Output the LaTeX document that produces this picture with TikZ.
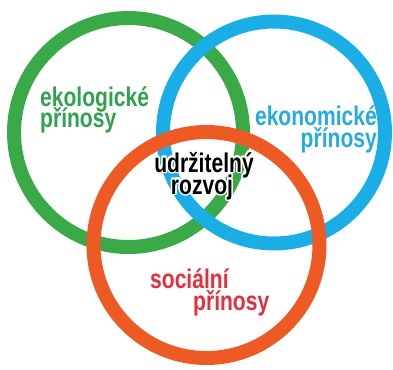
\documentclass[tikz,border=0pt]{standalone}
\usepackage{fontspec}
\usepackage{contour}
\newfontfamily\lblfont[FakeStretch=0.78]{Liberation Sans}
\contourlength{1.5pt}
\definecolor{ekogreen}{HTML}{3AAA48}
\definecolor{ekoblue}{HTML}{1BAEE6}
\definecolor{socorange}{HTML}{EE5A24}
\definecolor{socred}{HTML}{E42E3C}
\definecolor{txtgreen}{HTML}{2FA24E}
\definecolor{txtblue}{HTML}{27A9E1}
\tikzset{
	ring/.style={line width=14pt},
	lbl/.style={font=\lblfont\bfseries\fontsize{27}{22}\selectfont, inner sep=0pt}
}

\begin{document}
\begin{tikzpicture}[x=1pt, y=-1pt]
			%%%%% START %%%%%
			\useasboundingbox (0, 0) rectangle (393, 369);
			
			\draw[ring, color=ekogreen] (128.5, 132.5) circle (114.5);
			\draw[ring, color=ekoblue] (274, 132.5) circle (111);
			\draw[ring, color=socorange] (206.5, 245) circle (113);
			
			\node[lbl, color=txtgreen, anchor=base west] (eko1) at (40, 106) {ekologické};
			\node[lbl, color=txtgreen, anchor=base west] (eko2) at (40, 127.5) {přínosy};
			
			\node[lbl, color=txtblue, anchor=base east] (ekn1) at (377, 125) {ekonomické};
			\node[lbl, color=txtblue, anchor=base east] (ekn2) at (377, 147) {přínosy};
			
			\node[lbl, color=black, anchor=base] (udr1) at (204, 172) {\contour{white}{udržitelný}};
			\node[lbl, color=black, anchor=base] (udr2) at (202, 194) {\contour{white}{rozvoj}};
			
			\node[lbl, color=socred, anchor=base west] (soc1) at (150, 288.5) {sociální};
			\node[lbl, color=socred, anchor=base west] (soc2) at (193, 310.5) {přínosy};
			%%%%% END %%%%%
\end{tikzpicture}
\end{document}
